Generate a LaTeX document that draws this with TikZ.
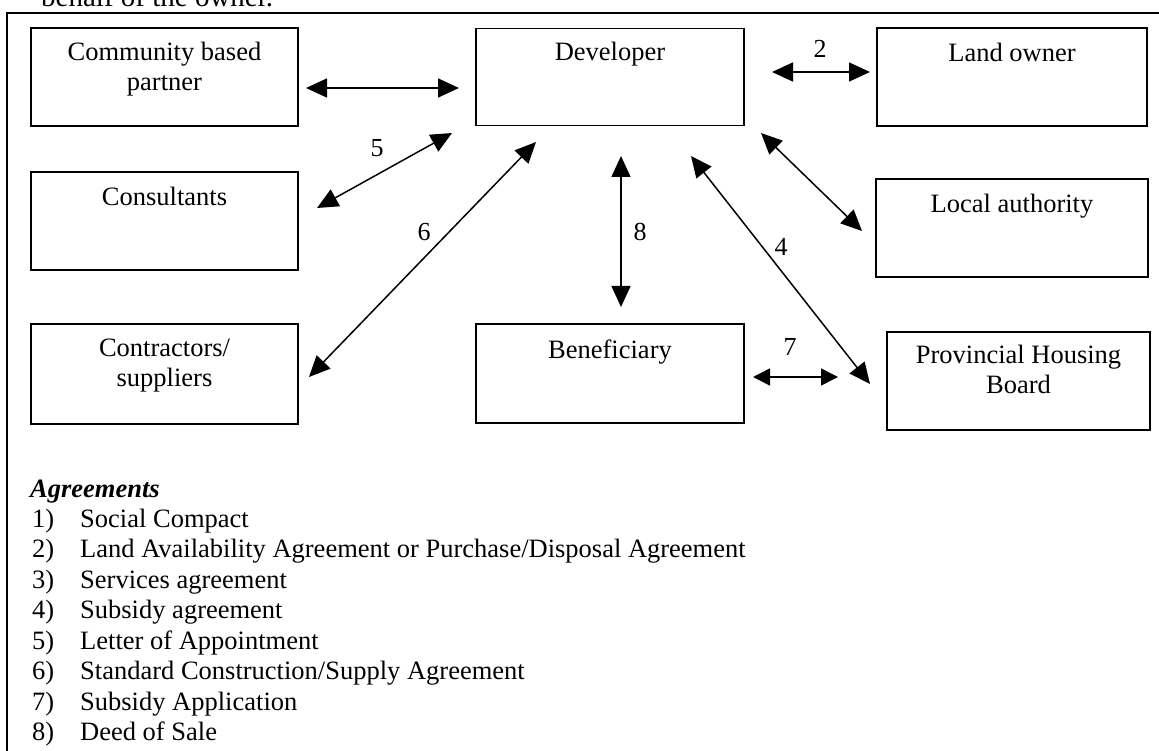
\documentclass[tikz,border=0pt]{standalone}
\usepackage{fontspec}
\setmainfont{Liberation Serif}
\usetikzlibrary{arrows.meta}
\begin{document}
\begin{tikzpicture}[x=1pt,y=-1pt,
  box/.style={draw, line width=1.8pt, rectangle, inner sep=0pt},
  lbl/.style={font=\fontsize{26.5}{30}\selectfont, align=center, anchor=north, inner sep=0pt},
  num/.style={font=\fontsize{26}{30}\selectfont, inner sep=0pt},
  leg/.style={font=\fontsize{26.5}{30}\selectfont, anchor=base west, inner sep=0pt},
  link/.style={line width=1.5pt, {Triangle[length=21pt,width=19pt]}-{Triangle[length=21pt,width=19pt]}},
  frame/.style={line width=1.8pt}
]
\path[use as bounding box] (0,0) rectangle (1159,751);
\begin{scope}
\clip (0,0) rectangle (1159,751);
\node[leg, font=\fontsize{29}{32}\selectfont] (cut) at (41,7) {behalf of the owner.};
\draw[frame] (7,760) -- (7,13) -- (1170,13);
\end{scope}

% boxes
\node[box, minimum width=267pt, minimum height=98pt] (comm) at (164.5,77) {};
\node[box, minimum width=268pt, minimum height=97pt] (dev) at (610,77) {};
\node[box, minimum width=270pt, minimum height=98pt] (land) at (1012,77) {};
\node[box, minimum width=267pt, minimum height=98pt] (cons) at (164.5,221) {};
\node[box, minimum width=272pt, minimum height=98pt] (local) at (1012,228) {};
\node[box, minimum width=267pt, minimum height=100pt] (contr) at (164.5,374) {};
\node[box, minimum width=268pt, minimum height=99pt] (benef) at (610,373.5) {};
\node[box, minimum width=263pt, minimum height=98pt] (phb) at (1018.5,381) {};

% box texts
\node[lbl] (commT) at (164.5,42) {Community based\\partner};
\node[lbl] (devT) at (610,42) {Developer};
\node[lbl] (landT) at (1012,43) {Land owner};
\node[lbl] (consT) at (164.5,187) {Consultants};
\node[lbl] (localT) at (1012,194) {Local authority};
\node[lbl] (contrT) at (164.5,339) {Contractors/\\suppliers};
\node[lbl] (benefT) at (610,340) {Beneficiary};
\node[lbl] (phbT) at (1018.5,345) {Provincial Housing\\Board};

% arrow end points
\coordinate (a1s) at (306,88);  \coordinate (a1e) at (459,88);
\coordinate (a2s) at (772,72);  \coordinate (a2e) at (870,72);
\coordinate (a5s) at (452,133); \coordinate (a5e) at (317,208);
\coordinate (a6s) at (536,142); \coordinate (a6e) at (309,377);
\coordinate (a3s) at (761,133); \coordinate (a3e) at (862,231);
\coordinate (a8s) at (621,156); \coordinate (a8e) at (621,307);
\coordinate (a4s) at (691,156); \coordinate (a4e) at (870,384);
\coordinate (a7s) at (753,377); \coordinate (a7e) at (838,377);

\draw[link] (a1s) -- (a1e);
\draw[link] (a2s) -- (a2e);
\draw[link] (a5s) -- (a5e);
\draw[link] (a6s) -- (a6e);
\draw[link] (a3s) -- (a3e);
\draw[link] (a8s) -- (a8e);
\draw[link] (a4s) -- (a4e);
\draw[link, {Triangle[length=17pt,width=17pt]}-{Triangle[length=17pt,width=17pt]}] (a7s) -- (a7e);

% numbers
\node[num] (n2) at (820,49) {2};
\node[num] (n5) at (377,148) {5};
\node[num] (n6) at (424,232) {6};
\node[num] (n8) at (640,232) {8};
\node[num] (n4) at (781,247) {4};
\node[num] (n7) at (790,347) {7};

% legend
\node[leg, font=\fontsize{26.5}{30}\selectfont\bfseries\itshape] (agr) at (30,497) {Agreements};
\node[leg] (l1n) at (32,527) {1)};   \node[leg] (l1) at (80,527) {Social Compact};
\node[leg] (l2n) at (32,557.5) {2)}; \node[leg] (l2) at (80,557.5) {Land Availability Agreement or Purchase/Disposal Agreement};
\node[leg] (l3n) at (32,588) {3)};   \node[leg] (l3) at (80,588) {Services agreement};
\node[leg] (l4n) at (32,618.5) {4)}; \node[leg] (l4) at (80,618.5) {Subsidy agreement};
\node[leg] (l5n) at (32,649) {5)};   \node[leg] (l5) at (80,649) {Letter of Appointment};
\node[leg] (l6n) at (32,679.5) {6)}; \node[leg] (l6) at (80,679.5) {Standard Construction/Supply Agreement};
\node[leg] (l7n) at (32,710) {7)};   \node[leg] (l7) at (80,710) {Subsidy Application};
\node[leg] (l8n) at (32,740.5) {8)}; \node[leg] (l8) at (80,740.5) {Deed of Sale};
\end{tikzpicture}
\end{document}
